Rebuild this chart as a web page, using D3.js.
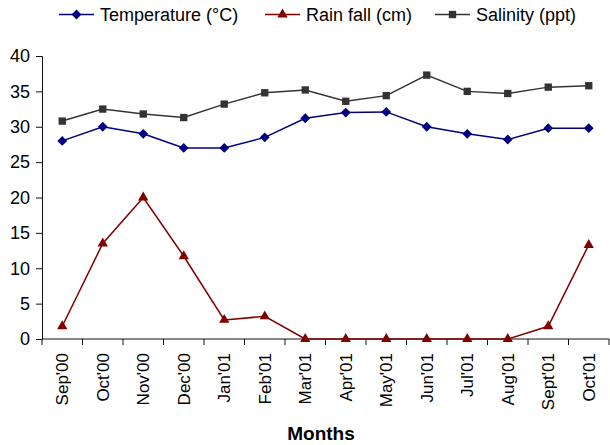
<!DOCTYPE html>
<html>
<head>
<meta charset="utf-8">
<script src="https://cdn.jsdelivr.net/npm/d3@7"></script>
<style>
  body { margin: 0; background: #fff; }
  svg { display: block; font-family: "Liberation Sans", Arial, sans-serif; }
</style>
</head>
<body>
<svg id="chart" width="610" height="445"></svg>
<script>
// Monthly observations, Sep 2000 – Oct 2001
const months = ["Sep'00","Oct'00","Nov'00","Dec'00","Jan'01","Feb'01","Mar'01","Apr'01","May'01","Jun'01","Jul'01","Aug'01","Sept'01","Oct'01"];
const temperature = [28, 30, 29, 27, 27, 28.5, 31.2, 32, 32.1, 30, 29, 28.2, 29.8, 29.8];
const rainfall = [1.8, 13.5, 20, 11.7, 2.7, 3.2, 0, 0, 0, 0, 0, 0, 1.8, 13.3];
const salinity = [30.8, 32.5, 31.8, 31.3, 33.2, 34.8, 35.2, 33.6, 34.4, 37.3, 35.0, 34.7, 35.6, 35.8];
const yTicks = [0, 5, 10, 15, 20, 25, 30, 35, 40];

const seriesList = [
  { name: "Temperature (°C)", values: temperature, color: "#000080", symbol: d3.symbolSquare, size: 48, rot: 45 },
  { name: "Rain fall (cm)", values: rainfall, color: "#800000", symbol: d3.symbolTriangle, size: 46, rot: 0 },
  { name: "Salinity (ppt)", values: salinity, color: "#333333", symbol: d3.symbolSquare, size: 54, rot: 0 }
];

const svg = d3.select("#chart");
const plotLeft = 42, plotRight = 609, plotTop = 56, plotBottom = 339;

const x = d3.scaleBand().domain(months).range([plotLeft, plotRight]);
const y = d3.scaleLinear().domain([0, 40]).range([plotBottom, plotTop]);

// Y axis
const yAxis = svg.append("g")
  .attr("transform", `translate(${plotLeft},0)`)
  .call(d3.axisLeft(y).tickValues(yTicks).tickSize(6).tickPadding(6));
yAxis.selectAll("text").attr("font-size", 18).attr("fill", "#000");
yAxis.selectAll("line, path").attr("stroke", "#111");

// X axis with ticks at category boundaries
const xAxisG = svg.append("g").attr("transform", `translate(0,${plotBottom})`);
xAxisG.append("line").attr("x1", plotLeft).attr("x2", plotRight).attr("y1", 0).attr("y2", 0).attr("stroke", "#111");
xAxisG.selectAll("line.tick")
  .data(months.map(m => x(m)).concat([plotRight]))
  .join("line")
  .attr("class", "tick")
  .attr("x1", d => d).attr("x2", d => d)
  .attr("y1", 0).attr("y2", 6)
  .attr("stroke", "#111");
xAxisG.selectAll("text")
  .data(months)
  .join("text")
  .attr("transform", d => `translate(${x(d) + x.bandwidth() / 2 + 6},14) rotate(-90)`)
  .attr("text-anchor", "end")
  .attr("font-size", 17)
  .attr("fill", "#000")
  .text(d => d);

svg.append("text")
  .attr("x", 321).attr("y", 440)
  .attr("text-anchor", "middle")
  .attr("font-size", 19).attr("font-weight", "bold")
  .text("Months");

// Series lines and markers
const line = d3.line()
  .x((d, i) => x(months[i]) + x.bandwidth() / 2)
  .y(d => y(d));

seriesList.forEach(s => {
  svg.append("path")
    .datum(s.values)
    .attr("d", line)
    .attr("fill", "none")
    .attr("stroke", s.color)
    .attr("stroke-width", 1.5);
  svg.append("g").selectAll("path")
    .data(s.values)
    .join("path")
    .attr("d", d3.symbol().type(s.symbol).size(s.size))
    .attr("transform", (d, i) => `translate(${x(months[i]) + x.bandwidth() / 2},${y(d)}) rotate(${s.rot})`)
    .attr("fill", s.color);
});

// Legend
const legendX = [59, 265, 435];
seriesList.forEach((s, i) => {
  const g = svg.append("g").attr("transform", `translate(${legendX[i]},14.5)`);
  g.append("line").attr("x1", 0).attr("x2", 35).attr("stroke", s.color).attr("stroke-width", 1.5);
  g.append("path")
    .attr("d", d3.symbol().type(s.symbol).size(s.size))
    .attr("transform", `translate(17.5,0) rotate(${s.rot})`)
    .attr("fill", s.color);
  g.append("text").attr("x", 41).attr("y", 6.5).attr("font-size", 18).attr("fill", "#000").text(s.name);
});
</script>
</body>
</html>
